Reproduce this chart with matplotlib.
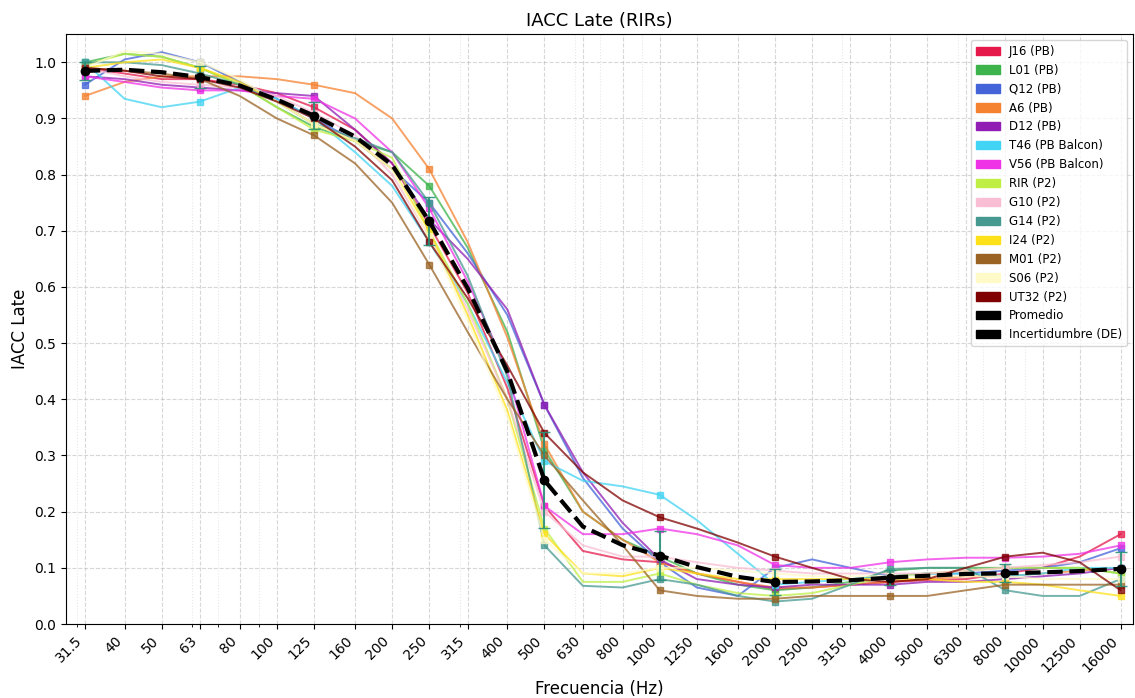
import numpy as np
import matplotlib
matplotlib.use('Agg')
import matplotlib.pyplot as plt
from matplotlib.patches import Patch

# third-octave bands (Hz)
freqs = [31.5, 40, 50, 63, 80, 100, 125, 160, 200, 250, 315, 400, 500, 630,
         800, 1000, 1250, 1600, 2000, 2500, 3150, 4000, 5000, 6300, 8000,
         10000, 12500, 16000]
freq_labels = ['31.5', '40', '50', '63', '80', '100', '125', '160', '200', '250',
               '315', '400', '500', '630', '800', '1000', '1250', '1600', '2000',
               '2500', '3150', '4000', '5000', '6300', '8000', '10000', '12500', '16000']

names = ['J16 (PB)', 'L01 (PB)', 'Q12 (PB)', 'A6 (PB)', 'D12 (PB)', 'T46 (PB Balcon)',
         'V56 (PB Balcon)', 'RIR (P2)', 'G10 (P2)', 'G14 (P2)', 'I24 (P2)', 'M01 (P2)',
         'S06 (P2)', 'UT32 (P2)']
colors = ['#e6194b', '#3cb44b', '#4363d8', '#f58231', '#911eb4', '#42d4f4', '#f032e6',
          '#bfef45', '#fabed4', '#469990', '#ffe119', '#9a6324', '#fffac8', '#800000']

# IACC Late per receiver
j16 = [0.99, 0.98, 0.97, 0.97, 0.96, 0.945, 0.92, 0.88, 0.82, 0.71, 0.59, 0.42, 0.21, 0.13,
       0.115, 0.11, 0.09, 0.075, 0.062, 0.065, 0.07, 0.075, 0.078, 0.08, 0.09, 0.10, 0.12, 0.16]
l01 = [1.0, 1.015, 1.01, 0.99, 0.96, 0.92, 0.885, 0.86, 0.84, 0.78, 0.67, 0.52, 0.31, 0.20,
       0.15, 0.12, 0.09, 0.07, 0.06, 0.065, 0.075, 0.095, 0.10, 0.10, 0.10, 0.10, 0.10, 0.09]
q12 = [0.96, 1.005, 1.018, 1.0, 0.965, 0.935, 0.90, 0.86, 0.81, 0.75, 0.66, 0.55, 0.39, 0.26,
       0.17, 0.11, 0.065, 0.05, 0.10, 0.115, 0.10, 0.085, 0.09, 0.09, 0.095, 0.10, 0.11, 0.135]
a6 = [0.94, 0.965, 0.975, 0.975, 0.975, 0.97, 0.96, 0.945, 0.90, 0.81, 0.68, 0.51, 0.32, 0.20,
      0.15, 0.11, 0.09, 0.075, 0.065, 0.065, 0.07, 0.075, 0.08, 0.085, 0.085, 0.09, 0.095, 0.10]
d12 = [0.975, 0.97, 0.96, 0.955, 0.95, 0.945, 0.94, 0.88, 0.82, 0.72, 0.65, 0.56, 0.39, 0.27,
       0.18, 0.115, 0.08, 0.07, 0.065, 0.07, 0.07, 0.07, 0.075, 0.075, 0.08, 0.085, 0.09, 0.10]
t46 = [1.0, 0.935, 0.92, 0.93, 0.955, 0.935, 0.90, 0.84, 0.78, 0.68, 0.57, 0.43, 0.29, 0.255,
       0.245, 0.23, 0.185, 0.125, 0.07, 0.075, 0.08, 0.085, 0.09, 0.09, 0.085, 0.09, 0.10, 0.10]
v56 = [0.975, 0.965, 0.955, 0.95, 0.95, 0.94, 0.935, 0.90, 0.84, 0.74, 0.61, 0.45, 0.21, 0.16,
       0.16, 0.17, 0.16, 0.14, 0.105, 0.10, 0.10, 0.11, 0.115, 0.118, 0.118, 0.12, 0.125, 0.14]
rir = [0.995, 1.015, 1.01, 0.99, 0.96, 0.92, 0.88, 0.86, 0.83, 0.70, 0.57, 0.40, 0.17, 0.075,
       0.075, 0.09, 0.07, 0.055, 0.05, 0.055, 0.07, 0.085, 0.09, 0.095, 0.10, 0.10, 0.10, 0.09]
g10 = [0.99, 0.975, 0.965, 0.96, 0.955, 0.94, 0.91, 0.87, 0.80, 0.69, 0.56, 0.40, 0.20, 0.14,
       0.12, 0.12, 0.11, 0.10, 0.095, 0.09, 0.09, 0.09, 0.09, 0.095, 0.10, 0.105, 0.11, 0.12]
g14 = [1.0, 1.0, 0.995, 0.98, 0.96, 0.93, 0.89, 0.865, 0.84, 0.75, 0.62, 0.44, 0.14, 0.068,
       0.065, 0.08, 0.07, 0.05, 0.04, 0.045, 0.07, 0.098, 0.10, 0.10, 0.06, 0.05, 0.05, 0.08]
i24 = [0.99, 1.0, 1.005, 0.99, 0.965, 0.93, 0.89, 0.86, 0.81, 0.70, 0.55, 0.38, 0.16, 0.09,
       0.085, 0.10, 0.09, 0.08, 0.08, 0.08, 0.08, 0.08, 0.08, 0.075, 0.075, 0.07, 0.06, 0.05]
m01 = [0.99, 0.985, 0.98, 0.97, 0.94, 0.90, 0.87, 0.82, 0.75, 0.64, 0.52, 0.40, 0.30, 0.22,
       0.14, 0.06, 0.05, 0.045, 0.045, 0.05, 0.05, 0.05, 0.05, 0.06, 0.07, 0.07, 0.07, 0.07]
s06 = [0.99, 1.02, 1.015, 1.0, 0.97, 0.93, 0.89, 0.86, 0.81, 0.69, 0.54, 0.37, 0.15, 0.09,
       0.09, 0.10, 0.10, 0.095, 0.09, 0.085, 0.085, 0.085, 0.085, 0.085, 0.085, 0.08, 0.08, 0.08]
ut32 = [0.99, 0.985, 0.975, 0.97, 0.955, 0.93, 0.90, 0.85, 0.79, 0.68, 0.58, 0.46, 0.34, 0.27,
        0.22, 0.19, 0.17, 0.145, 0.12, 0.10, 0.08, 0.075, 0.08, 0.10, 0.12, 0.127, 0.11, 0.06]

series = [j16, l01, q12, a6, d12, t46, v56, rir, g10, g14, i24, m01, s06, ut32]

data = np.array(series)
mean = data.mean(axis=0)
std = data.std(axis=0)
f = np.array(freqs)

fig = plt.figure(figsize=(11.35, 6.98), dpi=100)
ax = fig.add_axes([0.058, 0.106, 0.94, 0.845])

for vals, c in zip(series, colors):
    ax.plot(f, vals, color=c, lw=1.4, alpha=0.75, marker='s', ms=5, markevery=3, zorder=2)

ax.errorbar(f[::3], mean[::3], yerr=std[::3], fmt='none', ecolor='#2a9078',
            elinewidth=1.5, capsize=4, alpha=0.9, zorder=3)
ax.plot(f, mean, color='k', ls='--', lw=3, marker='o', ms=6, markevery=3, zorder=4)

ax.set_xscale('log')
ax.set_xlim(28.1, 17200)
ax.set_ylim(0, 1.05)
ax.set_xticks(freqs)
ax.set_xticklabels(freq_labels, rotation=45, ha='right', fontsize=10)
ax.set_yticks(np.arange(0, 1.01, 0.1))
ax.tick_params(axis='y', labelsize=10)
ax.grid(True, which='major', ls='--', alpha=0.5)
ax.grid(True, which='minor', ls=':', alpha=0.3)

ax.set_title('IACC Late (RIRs)', fontsize=13)
ax.set_xlabel('Frecuencia (Hz)', fontsize=12)
ax.set_ylabel('IACC Late', fontsize=12)

handles = [Patch(color=c, label=n) for n, c in zip(names, colors)]
handles.append(Patch(color='k', label='Promedio'))
handles.append(Patch(color='k', label='Incertidumbre (DE)'))
ax.legend(handles=handles, loc='upper right', fontsize=8.5)

fig.savefig('out.png', dpi=100)
